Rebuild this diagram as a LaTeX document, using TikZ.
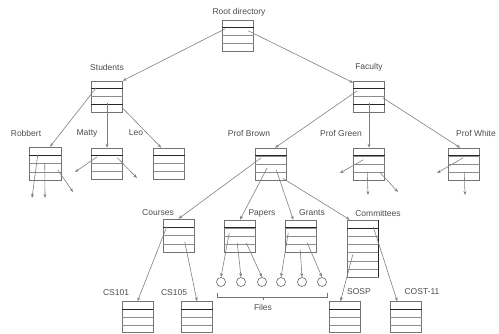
\documentclass[tikz,border=0pt]{standalone}
\usepackage{fontspec}
\setmainfont{Liberation Sans}
\usetikzlibrary{calc,arrows.meta}

% horizontal entry lines of a directory box: node, rows, list of dark lines
\newcommand\dirlines[3]{%
  \pgfmathtruncatemacro\dirlast{#2-1}%
  \foreach \k in {1,...,\dirlast}{%
    \draw[rowline] ($(#1.north west)!\k/#2!(#1.south west)$) -- ($(#1.north east)!\k/#2!(#1.south east)$);}%
  \foreach \k in {#3}{%
    \draw[darkrow] ($(#1.north west)!\k/#2!(#1.south west)$) -- ($(#1.north east)!\k/#2!(#1.south east)$);}%
}

\begin{document}
\begin{tikzpicture}[x=1pt,y=-1pt,
  dir/.style={draw=black!55, line width=0.5pt, inner sep=0pt, minimum width=31pt, minimum height=31pt},
  rowline/.style={draw=black!45, line width=0.5pt},
  darkrow/.style={draw=black!85, line width=0.9pt},
  lbl/.style={font=\fontsize{8.5}{10}\selectfont, text=black!70, inner sep=0pt},
  ptr/.style={draw=black!50, line width=0.6pt, -{Stealth[length=4pt,width=3pt]}},
  file/.style={circle, draw=black!60, line width=0.6pt, minimum size=9pt, inner sep=0pt},
  brace/.style={draw=black!55, line width=0.5pt}]
\useasboundingbox (0,0) rectangle (499,333);

% directory boxes
\node[dir] (root) at (238,35.5) {};
\node[dir] (students) at (107,96.5) {};
\node[dir] (faculty) at (369,96.5) {};
\node[dir, minimum width=32pt, minimum height=33pt] (robbert) at (45,163.5) {};
\node[dir] (matty) at (107,163.5) {};
\node[dir] (leo) at (169,163.5) {};
\node[dir, minimum height=32pt] (profbrown) at (271,164) {};
\node[dir, minimum height=32pt] (profgreen) at (369,164) {};
\node[dir, minimum height=32pt] (profwhite) at (464,164) {};
\node[dir, minimum height=33pt] (courses) at (178.5,235.5) {};
\node[dir, minimum height=32pt] (papers) at (240,236) {};
\node[dir, minimum height=32pt] (grants) at (301,236) {};
\node[dir, minimum height=57pt] (committees) at (362.5,248.5) {};
\node[dir] (cs101) at (137.5,317) {};
\node[dir] (cs105) at (197,317) {};
\node[dir] (sosp) at (344.5,317) {};
\node[dir] (cost11) at (406,317) {};

\dirlines{root}{4}{1}
\dirlines{students}{4}{1,3}
\dirlines{faculty}{4}{1,3}
\dirlines{robbert}{4}{1}
\dirlines{matty}{4}{1}
\dirlines{leo}{4}{1}
\dirlines{profbrown}{4}{1}
\dirlines{profgreen}{4}{1}
\dirlines{profwhite}{4}{1}
\dirlines{courses}{4}{1}
\dirlines{papers}{4}{1}
\dirlines{grants}{4}{1}
\dirlines{committees}{7}{1}
\dirlines{cs101}{4}{1}
\dirlines{cs105}{4}{1}
\dirlines{sosp}{4}{1}
\dirlines{cost11}{4}{1}
\draw[black!85, line width=1pt] (committees.north east) -- (committees.south east);

% labels
\node[lbl] (lroot) at (239,12) {Root directory};
\node[lbl] (lstudents) at (107,67) {Students};
\node[lbl] (lfaculty) at (369,67) {Faculty};
\node[lbl] (lrobbert) at (26,133) {Robbert};
\node[lbl] (lmatty) at (87,133) {Matty};
\node[lbl] (lleo) at (136,133) {Leo};
\node[lbl] (lbrown) at (249,133) {Prof Brown};
\node[lbl] (lgreen) at (341,133) {Prof Green};
\node[lbl] (lwhite) at (476,133) {Prof White};
\node[lbl] (lcourses) at (158,213) {Courses};
\node[lbl] (lpapers) at (262,213) {Papers};
\node[lbl] (lgrants) at (312,213) {Grants};
\node[lbl] (lcommittees) at (378,213) {Committees};
\node[lbl] (lcs101) at (116,293) {CS101};
\node[lbl] (lcs105) at (174,293) {CS105};
\node[lbl] (lsosp) at (359,292) {SOSP};
\node[lbl] (lcost) at (422,292) {COST-11};

% files
\node[file] (f1) at (221,282) {};
\node[file] (f2) at (241,282) {};
\node[file] (f3) at (262,282) {};
\node[file] (f4) at (281,282) {};
\node[file] (f5) at (302,282) {};
\node[file] (f6) at (322,282) {};

% pointers between directories
\draw[ptr] ($(root.north west)+(3,9)$) -- (students.north east);
\draw[ptr] ($(root.north west)+(26,11)$) -- ($(faculty.north west)+(0,2)$);
\draw[ptr] ($(students.north west)+(5,7)$) -- ($(robbert.north)+(5,0)$);
\draw[ptr] ($(students.center)+(0,6)$) -- (matty.north);
\draw[ptr] ($(students.south east)+(-1,-5)$) -- ($(leo.north west)+(8,0)$);
\draw[ptr] ($(faculty.north west)+(4,10)$) -- ($(profbrown.north)+(4,0)$);
\draw[ptr] ($(faculty.center)+(0,6)$) -- (profgreen.north);
\draw[ptr] ($(faculty.north east)+(-2,17)$) -- ($(profwhite.north west)+(12,0)$);
\draw[ptr] ($(profbrown.north west)+(6,10)$) -- (courses.north);
\draw[ptr] ($(profbrown.north west)+(12,20)$) -- (papers.north);
\draw[ptr] ($(profbrown.north west)+(21,22)$) -- ($(grants.north west)+(8,0)$);
\draw[ptr] ($(profbrown.south east)+(-4,-2)$) -- ($(committees.north west)+(3,0)$);
\draw[ptr] ($(courses.north west)+(4,8)$) -- (cs101.north);
\draw[ptr] ($(courses.north west)+(22,23)$) -- (cs105.north);
\draw[ptr] ($(committees.north west)+(6,35)$) -- ($(sosp.north)+(-4,0)$);
\draw[ptr] ($(committees.north east)+(-5,7)$) -- ($(cost11.north west)+(7,0)$);

% pointers to files
\draw[ptr] ($(papers.north west)+(5,13)$) -- (f1.north);
\draw[ptr] ($(papers.north west)+(13,23)$) -- (f2.north);
\draw[ptr] ($(papers.north west)+(22,23)$) -- (f3.north);
\draw[ptr] ($(grants.north west)+(3,13)$) -- (f4.north);
\draw[ptr] ($(grants.north west)+(15,30)$) -- (f5.north);
\draw[ptr] ($(grants.north west)+(22,23)$) -- (f6.north);

% pointers leading to entries not shown
\coordinate (r1) at (32,198);
\coordinate (r2) at (45,198);
\coordinate (r3) at (73,192);
\coordinate (m1) at (75,172);
\coordinate (m2) at (137,178);
\coordinate (g1) at (340,173);
\coordinate (g2) at (368,195);
\coordinate (g3) at (398,192);
\coordinate (w1) at (437,173);
\coordinate (w2) at (465,195);
\draw[ptr] ($(robbert.north west)+(9,8)$) -- (r1);
\draw[ptr] ($(robbert.north west)+(16,16)$) -- (r2);
\draw[ptr] ($(robbert.north west)+(29,23)$) -- (r3);
\draw[ptr] ($(matty.north west)+(6,9)$) -- (m1);
\draw[ptr] ($(matty.north west)+(26,10)$) -- (m2);
\draw[ptr] ($(profgreen.north west)+(10,12)$) -- (g1);
\draw[ptr] ($(profgreen.north west)+(14,24)$) -- (g2);
\draw[ptr] ($(profgreen.north west)+(27,25)$) -- (g3);
\draw[ptr] ($(profwhite.north west)+(15,10)$) -- (w1);
\draw[ptr] ($(profwhite.north west)+(16,24)$) -- (w2);

% bracket gathering the files
\coordinate (bl) at (217,297);
\coordinate (br) at (327,297);
\coordinate (bm) at (263,297);
\draw[brace] ($(bl)+(0,-4)$) -- (bl) -- (br) -- ($(br)+(0,-4)$);
\draw[brace] (bm) -- ($(bm)+(0,3)$);
\node[lbl] (lfiles) at (263,307) {Files};
\end{tikzpicture}
\end{document}
